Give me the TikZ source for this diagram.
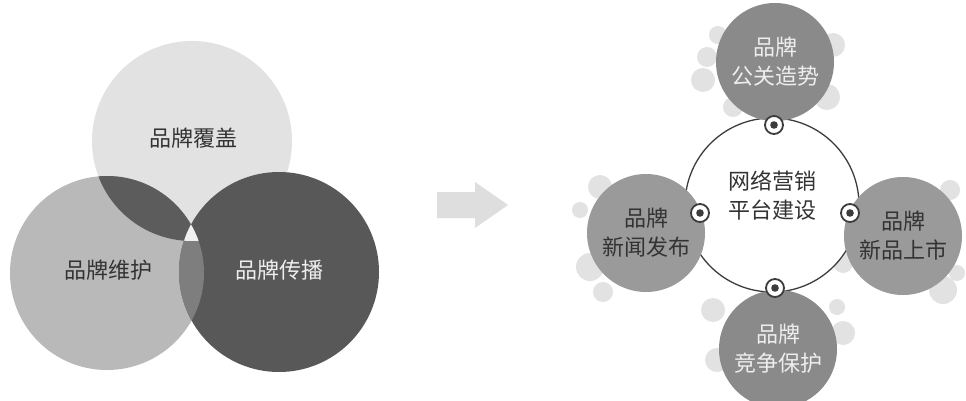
\documentclass[tikz,border=0pt]{standalone}
\usepackage{fontspec}
\setmainfont{Noto Sans CJK SC}
\begin{document}
\begin{tikzpicture}[x=1pt,y=-1pt,
  lbl/.style={font=\fontsize{22}{29}\selectfont,align=center,inner sep=0pt},
  outer/.style={circle,minimum size=118pt,inner sep=0pt},
  dotnode/.style={circle,draw=ringgray,line width=1.8pt,fill=white,minimum size=18pt,inner sep=0pt,
    path picture={\fill[ringgray] (path picture bounding box.center) circle (3.8pt);}}
]
\definecolor{topc}{HTML}{E2E2E2}
\definecolor{leftc}{HTML}{B9B9B9}
\definecolor{rightc}{HTML}{585858}
\definecolor{lensTL}{HTML}{5C5C5C}
\definecolor{lensLR}{HTML}{7E7E7E}
\definecolor{darktxt}{HTML}{333333}
\definecolor{lighttxt}{HTML}{EEEEEE}
\definecolor{bubgray}{HTML}{E2E2E2}
\definecolor{outA}{HTML}{8A8A8A}
\definecolor{outB}{HTML}{9A9A9A}
\definecolor{ringgray}{HTML}{3C3C3C}
\definecolor{arrowc}{HTML}{DEDEDE}
\useasboundingbox (0,0) rectangle (966,401);
\fill[white] (0,0) rectangle (966,401);

% ---------- Venn diagram ----------
\coordinate (ct) at (192,141);
\coordinate (cl) at (107,273);
\coordinate (cr) at (279,272);
\fill[topc] (ct) circle (100);
\fill[leftc] (cl) circle (97);
\fill[rightc] (cr) circle (100);
\begin{scope}
  \clip (cl) circle (97);
  \fill[lensTL] (ct) circle (100);
  \fill[lensLR] (cr) circle (100);
  \clip (ct) circle (100);
  \fill[white!94!black] (cr) circle (100);
\end{scope}
\node[lbl,text=darktxt] (vt) at (193,138) {品牌覆盖};
\node[lbl,text=darktxt] (vl) at (108,270) {品牌维护};
\node[lbl,text=lighttxt] (vr) at (279,270) {品牌传播};

% ---------- arrow ----------
\fill[arrowc] (437,192) -- (475,192) -- (475,182) -- (508,205) -- (475,228) -- (475,218) -- (437,218) -- cycle;

% ---------- bubbles ----------
\foreach \x/\y/\r in {707/57/10, 703/80/12, 833/45/12, 827/97/13, 733/107/10, 718/35/9,
  580/210/8, 600/187/12, 590/267/14, 603/292/10, 713/248/8,
  950/190/10, 943/290/14, 833/243/8, 843/263/10, 957/273/8,
  713/310/12, 717/360/12, 843/333/12, 837/307/8}
  \fill[bubgray] (\x,\y) circle (\r);

% ---------- central platform ----------
\node[circle,draw=ringgray,line width=1.3pt,fill=white,minimum size=174pt,inner sep=0pt] (hub) at (772,205) {};
\node[lbl,text=darktxt] (hubt) at (772,196) {网络营销\\平台建设};

% ---------- outer circles ----------
\node[outer,fill=outA] (pt) at (775,62) {};
\node[lbl,text=lighttxt] at (pt) {品牌\\公关造势};
\node[outer,fill=outB] (pl) at (646,233) {};
\node[lbl,text=darktxt] at (pl) {品牌\\新闻发布};
\node[outer,fill=outB] (pr) at (903,236) {};
\node[lbl,text=darktxt] at (pr) {品牌\\新品上市};
\node[outer,fill=outA] (pb) at (778,349) {};
\node[lbl,text=lighttxt] at (pb) {品牌\\竞争保护};

% ---------- connector dots ----------
\node[dotnode] (dt) at (774,125) {};
\node[dotnode] (dl) at (700,213) {};
\node[dotnode] (dr) at (850,213) {};
\node[dotnode] (db) at (775,288) {};
\end{tikzpicture}
\end{document}
